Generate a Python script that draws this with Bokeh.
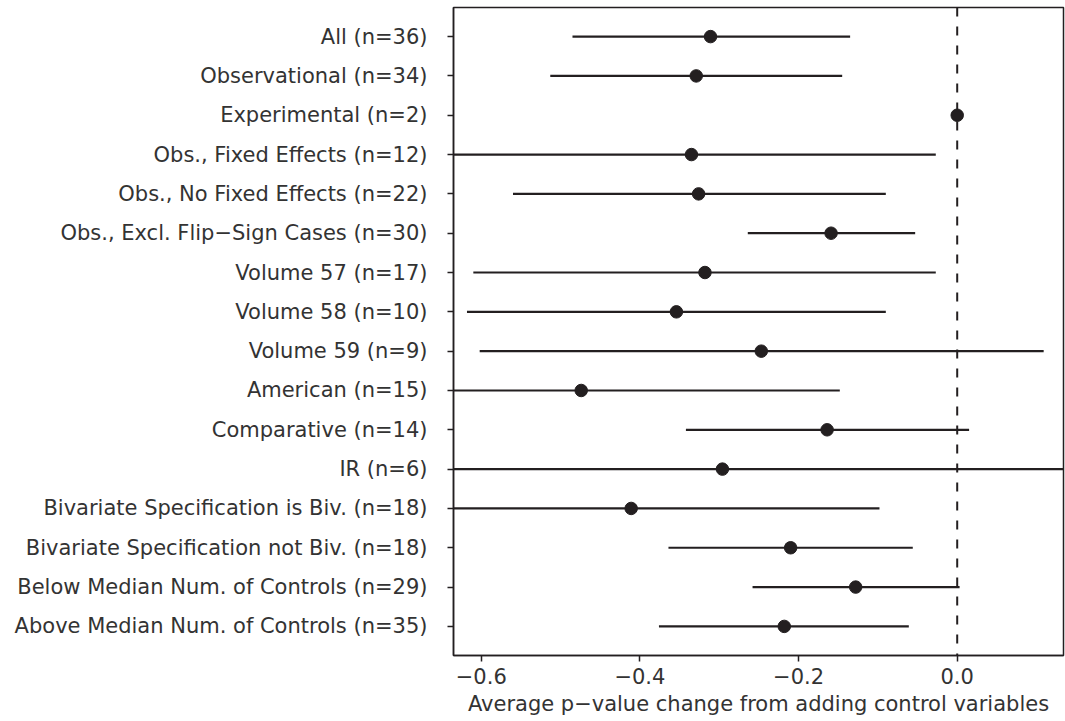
from bokeh.plotting import figure
from bokeh.models import FactorRange, Span, FixedTicker, CustomJSTickFormatter, ColumnDataSource
from bokeh.embed import file_html
from bokeh.resources import INLINE

categories = [
    "All (n=36)",
    "Observational (n=34)",
    "Experimental (n=2)",
    "Obs., Fixed Effects (n=12)",
    "Obs., No Fixed Effects (n=22)",
    "Obs., Excl. Flip\u2212Sign Cases (n=30)",
    "Volume 57 (n=17)",
    "Volume 58 (n=10)",
    "Volume 59 (n=9)",
    "American (n=15)",
    "Comparative (n=14)",
    "IR (n=6)",
    "Bivariate Specification is Biv. (n=18)",
    "Bivariate Specification not Biv. (n=18)",
    "Below Median Num. of Controls (n=29)",
    "Above Median Num. of Controls (n=35)",
]
estimate = [-0.311, -0.329, 0.000, -0.335, -0.326, -0.159, -0.318, -0.354,
            -0.247, -0.474, -0.164, -0.296, -0.411, -0.210, -0.128, -0.218]
lower = [-0.485, -0.513, 0.000, -0.645, -0.560, -0.264, -0.610, -0.618,
         -0.602, -0.800, -0.342, -0.800, -0.724, -0.364, -0.258, -0.376]
upper = [-0.135, -0.145, 0.000, -0.027, -0.090, -0.053, -0.027, -0.090,
         0.109, -0.148, 0.015, 0.210, -0.098, -0.056, 0.003, -0.061]
x_ticks = [-0.6, -0.4, -0.2, 0.0]
x_title = "Average p\u2212value change from adding control variables"

FONT = "DejaVu Sans"
INK = "#231f20"
TXT = "#333333"
FS = "21px"

src = ColumnDataSource(dict(cat=categories, est=estimate, lo=lower, hi=upper))

p = figure(width=1065, height=721, output_backend="svg", toolbar_location=None,
           y_range=FactorRange(factors=list(reversed(categories)), range_padding=0.03),
           x_range=(-0.635, 0.134))
p.min_border_left = 453
p.min_border_right = 2
p.min_border_top = 7
p.min_border_bottom = 66
p.background_fill_color = "white"
p.border_fill_color = "white"
p.outline_line_color = INK
p.outline_line_width = 1.5
p.xgrid.visible = False
p.ygrid.visible = False

p.add_layout(Span(location=0, dimension="height", line_color=INK,
                  line_width=2, line_dash="9 10"))

p.segment(x0="lo", y0="cat", x1="hi", y1="cat", source=src,
          line_color=INK, line_width=2.2)
p.scatter(x="est", y="cat", source=src, size=12.5, fill_color=INK,
          line_color=INK)

for ax in (p.xaxis[0], p.yaxis[0]):
    ax.axis_line_color = INK
    ax.axis_line_width = 1.5
    ax.major_tick_line_color = INK
    ax.major_tick_line_width = 1.5
    ax.major_tick_out = 6
    ax.major_tick_in = 0
    ax.minor_tick_line_color = None
    ax.major_label_text_font = FONT
    ax.major_label_text_font_size = FS
    ax.major_label_text_color = TXT

p.yaxis[0].major_label_standoff = 20
p.xaxis[0].ticker = FixedTicker(ticks=x_ticks)
p.xaxis[0].formatter = CustomJSTickFormatter(
    code="return (tick < -1e-9 ? '\u2212' : '') + Math.abs(tick).toFixed(1);")
p.xaxis[0].major_label_standoff = 6
p.xaxis[0].axis_label = x_title
p.xaxis[0].axis_label_text_font = FONT
p.xaxis[0].axis_label_text_font_size = FS
p.xaxis[0].axis_label_text_font_style = "normal"
p.xaxis[0].axis_label_text_color = TXT
p.xaxis[0].axis_label_standoff = 5

open("out.html", "w").write(file_html(p, INLINE))
